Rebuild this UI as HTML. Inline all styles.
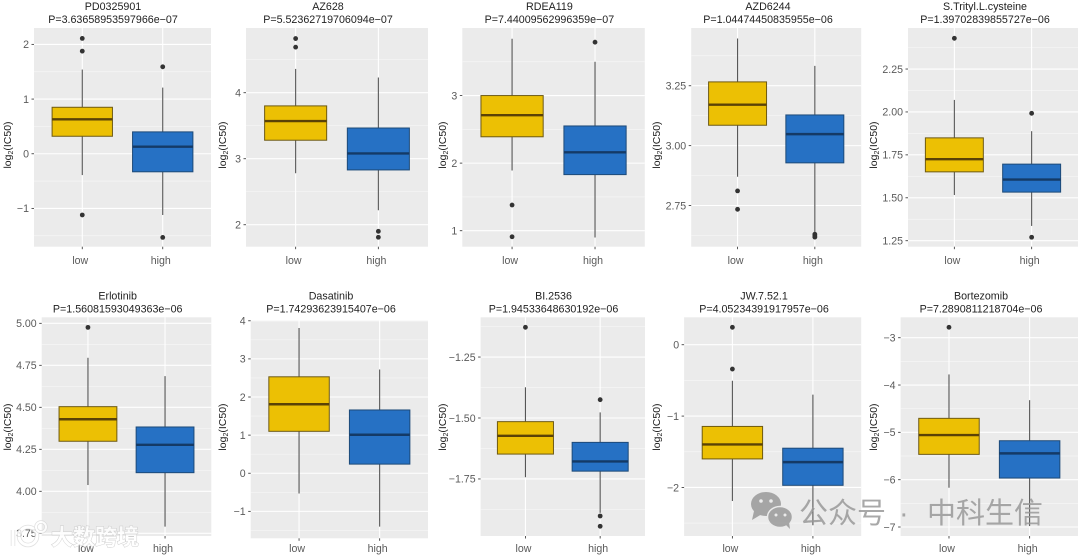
<!DOCTYPE html>
<html lang="en">
<head>
<meta charset="utf-8">
<title>Drug sensitivity boxplots</title>
<style>
html,body{margin:0;padding:0;background:#fff;width:1080px;height:556px;overflow:hidden}
svg{display:block;filter:blur(0.35px)}
text{font-family:"Liberation Sans","Noto Sans CJK SC",sans-serif}
</style>
</head>
<body>
<svg id="chart" xmlns="http://www.w3.org/2000/svg" width="1080" height="556" viewBox="0 0 1080 556"></svg>
<script>
// ---- data ----
const drugs = ["PD0325901","AZ628","RDEA119","AZD6244","S.Trityl.L.cysteine","Erlotinib","Dasatinib","BI.2536","JW.7.52.1","Bortezomib"];
const pValues = ["P=3.63658953597966e\u221207","P=5.52362719706094e\u221207","P=7.44009562996359e\u221207","P=1.04474450835955e\u221206","P=1.39702839855727e\u221206","P=1.56081593049363e\u221206","P=1.74293623915407e\u221206","P=1.94533648630192e\u221206","P=4.05234391917957e\u221206","P=7.2890811218704e\u221206"];
const groups = ["low","high"];
// [lower whisker, q1, median, q3, upper whisker]
const lowStats = [
  [-0.39,0.32,0.63,0.85,1.54],
  [2.78,3.28,3.57,3.80,4.36],
  [1.89,2.39,2.71,3.00,3.84],
  [2.87,3.085,3.171,3.266,3.447],
  [1.516,1.651,1.725,1.849,2.07],
  [4.0375,4.298,4.429,4.504,4.795],
  [-0.53,1.10,1.81,2.53,3.81],
  [-1.743,-1.648,-1.573,-1.515,-1.374],
  [-2.19,-1.60,-1.397,-1.145,-0.505],
  [-6.17,-5.465,-5.057,-4.704,-3.776]
];
const highStats = [
  [-1.12,-0.33,0.13,0.40,1.21],
  [2.22,2.83,3.08,3.465,4.23],
  [0.90,1.83,2.16,2.55,3.50],
  [2.634,2.928,3.048,3.128,3.333],
  [1.336,1.533,1.606,1.696,1.888],
  [3.79,4.111,4.277,4.383,4.686],
  [-1.40,0.24,1.01,1.66,2.72],
  [-1.889,-1.718,-1.678,-1.60,-1.477],
  [-2.53,-1.97,-1.645,-1.45,-0.70],
  [-6.98,-5.965,-5.444,-5.177,-4.32]
];
const lowOutliers = [
  [2.11,1.877,-1.12],
  [4.82,4.69],
  [1.38,0.91],
  [2.811,2.734],
  [2.429],
  [4.976],
  [],
  [-1.128],
  [0.244,-0.341],
  [-2.78]
];
const highOutliers = [
  [1.59,-1.53],
  [1.90,1.81],
  [3.79],
  [2.63,2.623,2.618],
  [1.992,1.27],
  [],
  [],
  [-1.425,-1.902,-1.944],
  [],
  []
];
// y-axis limits per panel [bottom, top]
const yLimits = [
  [-1.70,2.30],
  [1.667,4.98],
  [0.763,4.0],
  [2.578,3.491],
  [1.215,2.489],
  [3.734,5.036],
  [-1.706,4.02],
  [-1.984,-1.087],
  [-2.68,0.384],
  [-7.19,-2.569]
];
const yTickLabels = [
  ["\u22121","0","1","2"],
  ["2","3","4"],
  ["1","2","3"],
  ["2.75","3.00","3.25"],
  ["1.25","1.50","1.75","2.00","2.25"],
  ["3.75","4.00","4.25","4.50","4.75","5.00"],
  ["\u22121","0","1","2","3","4"],
  ["\u22121.75","\u22121.50","\u22121.25"],
  ["\u22122","\u22121","0"],
  ["\u22127","\u22126","\u22125","\u22124","\u22123"]
];

// ---- layout (not data) ----
const panelLeft   = [34,246,462.3,691.2,908,41.7,250.7,480.6,684.1,900.6];
const panelRight  = [211,428,644.8,861.2,1078,211.3,428,645,861.2,1078];
const panelTop    = [28,28,28,28,28,317.3,320,317.3,317.3,317.3];
const panelBottom = [246.7,246.7,246.7,246.7,246.7,536,538.3,536,536,536];
const titleCenter = [113,328,549.4,768,985,117.7,331,553.5,764,981];
const yTitleX     = [11,226,446,660,877,11,226,446,660,877];
const fillColors   = ["#ecc004","#2671c4"];
const strokeColors = ["#6e5a12","#1d4a78"];
const medianColors = ["#5a4206","#143a66"];

const svgNS = "http://www.w3.org/2000/svg";
const root = document.getElementById("chart");
function mk(tag, parent){
  const el = document.createElementNS(svgNS, tag);
  parent.appendChild(el);
  return el;
}
function line(el, x1, y1, x2, y2, color, w){
  el.setAttribute("x1", x1);
  el.setAttribute("y1", y1);
  el.setAttribute("x2", x2);
  el.setAttribute("y2", y2);
  el.setAttribute("stroke", color);
  el.setAttribute("stroke-width", w);
}
function label(el, x, y, anchor, size, color, str){
  el.setAttribute("x", x);
  el.setAttribute("y", y);
  el.setAttribute("text-anchor", anchor);
  el.setAttribute("font-size", size);
  el.setAttribute("fill", color);
  el.textContent = str;
}
function tickNumber(s){
  return parseFloat(s.replace("\u2212","-"));
}

drugs.forEach(function(drug, i){
  const x0 = panelLeft[i], x1 = panelRight[i], y0 = panelTop[i], y1 = panelBottom[i];
  const lim = yLimits[i];
  const yScale = function(v){ return y1 - (v - lim[0]) / (lim[1] - lim[0]) * (y1 - y0); };
  // ggplot discrete axis: positions 1..n with 0.6 expansion
  const unit = (x1 - x0) / (groups.length - 1 + 1.2);
  const xScale = function(k){ return x0 + (0.6 + k) * unit; };
  const boxW = 0.75 * unit;
  const rowTop = i < 5 ? 28 : 317.3;
  const xLabelY = i < 5 ? 264.2 : 552;

  const g = mk("g", root);
  
  

  const bg = mk("rect", g);
  
  
  bg.setAttribute("x", x0);
  bg.setAttribute("y", y0);
  bg.setAttribute("width", x1 - x0);
  bg.setAttribute("height", y1 - y0);
  bg.setAttribute("fill", "#ebebeb");

  // minor + major horizontal grid
  const ticks = yTickLabels[i].map(tickNumber);
  const step = ticks[1] - ticks[0];
  const minors = [ticks[0] - step / 2].concat(ticks.map(function(t){ return t + step / 2; }));
  minors.forEach(function(m){
    if (m <= lim[0] || m >= lim[1]) return;
    const gl = mk("line", g);
    
    
    line(gl, x0, yScale(m), x1, yScale(m), "#f6f6f6", 0.7);
  });
  ticks.forEach(function(t, k){
    const gl = mk("line", g);
    
    
    line(gl, x0, yScale(t), x1, yScale(t), "#ffffff", 1.1);
    const tm = mk("line", g);
    
    
    line(tm, x0 - 2.5, yScale(t), x0, yScale(t), "#444444", 0.9);
    const tl = mk("text", g);
    
    
    label(tl, x0 - 5, yScale(t) + 3.8, "end", 10.6, "#5a5a5a", yTickLabels[i][k]);
  });

  // titles
  const t1 = mk("text", g);
  
  
  label(t1, titleCenter[i], rowTop - 18, "middle", 10.7, "#222222", drug);
  const t2 = mk("text", g);
  
  
  label(t2, titleCenter[i], rowTop - 5, "middle", 10.7, "#222222", pValues[i]);

  // y-axis title
  const yt = mk("text", g);
  
  
  const yMid = i < 5 ? 145 : 427;
  yt.setAttribute("transform", "rotate(-90 " + yTitleX[i] + " " + yMid + ")");
  label(yt, yTitleX[i], yMid, "middle", 10.5, "#222222", "");
  const a = mk("tspan", yt);
  a.textContent = "log";
  const b = mk("tspan", yt);
  b.setAttribute("font-size", "7");
  b.setAttribute("dy", "1.8");
  b.textContent = "2";
  const c = mk("tspan", yt);
  c.setAttribute("dy", "-1.8");
  c.textContent = "(IC50)";

  groups.forEach(function(name, k){
    const cx = xScale(k);
    const st = k === 0 ? lowStats[i] : highStats[i];
    const out = k === 0 ? lowOutliers[i] : highOutliers[i];

    const vg = mk("line", g);
    
    
    line(vg, cx, y0, cx, y1, "#ffffff", 1.1);

    const xm = mk("line", g);
    
    
    line(xm, cx, y1, cx, y1 + 2.5, "#444444", 0.9);

    const xl = mk("text", g);
    
    
    label(xl, cx - 2, xLabelY, "middle", 10.6, "#5a5a5a", name);

    const wh = mk("line", g);
    
    
    line(wh, cx, yScale(st[0]), cx, yScale(st[4]), "#555555", 1.1);

    const box = mk("rect", g);
    
    
    box.setAttribute("x", cx - boxW / 2);
    box.setAttribute("y", yScale(st[3]));
    box.setAttribute("width", boxW);
    box.setAttribute("height", yScale(st[1]) - yScale(st[3]));
    box.setAttribute("fill", fillColors[k]);
    box.setAttribute("stroke", strokeColors[k]);
    box.setAttribute("stroke-width", "1");

    const med = mk("line", g);
    
    
    line(med, cx - boxW / 2, yScale(st[2]), cx + boxW / 2, yScale(st[2]), medianColors[k], 2.4);

    out.forEach(function(v){
      const pt = mk("circle", g);
      
      
      pt.setAttribute("cx", cx);
      pt.setAttribute("cy", yScale(v));
      pt.setAttribute("r", "2.4");
      pt.setAttribute("fill", "#333333");
    });
  });
});
</script>
<svg xmlns="http://www.w3.org/2000/svg" width="1080" height="556" viewBox="0 0 1080 556" style="position:absolute;left:0;top:0">
  <g opacity="0.8">
    <g fill="none" stroke="#ffffff" stroke-width="3">
      <path d="M13 530 L13 546" stroke="#d8d8d8" stroke-width="4.5"/>
      <path d="M13 530 L13 546"/>
      <circle cx="28" cy="536" r="9" stroke="#d8d8d8" stroke-width="4.5"/>
      <circle cx="28" cy="536" r="9"/>
      <circle cx="41" cy="527" r="5" stroke="#d8d8d8" stroke-width="3.5"/>
      <circle cx="41" cy="527" r="5" stroke-width="2"/>
    </g>
    <text x="51" y="545" font-size="22" font-weight="bold" fill="#ffffff" stroke="#c4c4c4" stroke-width="1" paint-order="stroke" style="font-family:'Liberation Sans','Noto Sans CJK SC',sans-serif">大数跨境</text>
  </g>
  <g opacity="0.85">
    <g fill="#999999">
      <ellipse cx="766" cy="504" rx="15" ry="12"/>
      <path d="M754 511 L752 520 L762 514 Z"/>
      <ellipse cx="780" cy="517" rx="12.5" ry="10.5" stroke="#ebebeb" stroke-width="1.5"/>
      <path d="M786 525 L790 529 L789 522 Z"/>
      <circle cx="761" cy="501" r="1.8" fill="#ebebeb"/>
      <circle cx="771" cy="501" r="1.8" fill="#ebebeb"/>
      <circle cx="776" cy="515" r="1.5" fill="#ebebeb"/>
      <circle cx="785" cy="515" r="1.5" fill="#ebebeb"/>
    </g>
    <text x="799" y="523" font-size="29" fill="#999999" style="font-family:'Liberation Sans','Noto Sans CJK SC',sans-serif">公众号</text>
    <text x="899" y="523" font-size="29" fill="#999999" style="font-family:'Liberation Sans','Noto Sans CJK SC',sans-serif">·</text>
    <text x="927" y="523" font-size="29" fill="#999999" style="font-family:'Liberation Sans','Noto Sans CJK SC',sans-serif">中科生信</text>
  </g>
</svg>
</body>
</html>
